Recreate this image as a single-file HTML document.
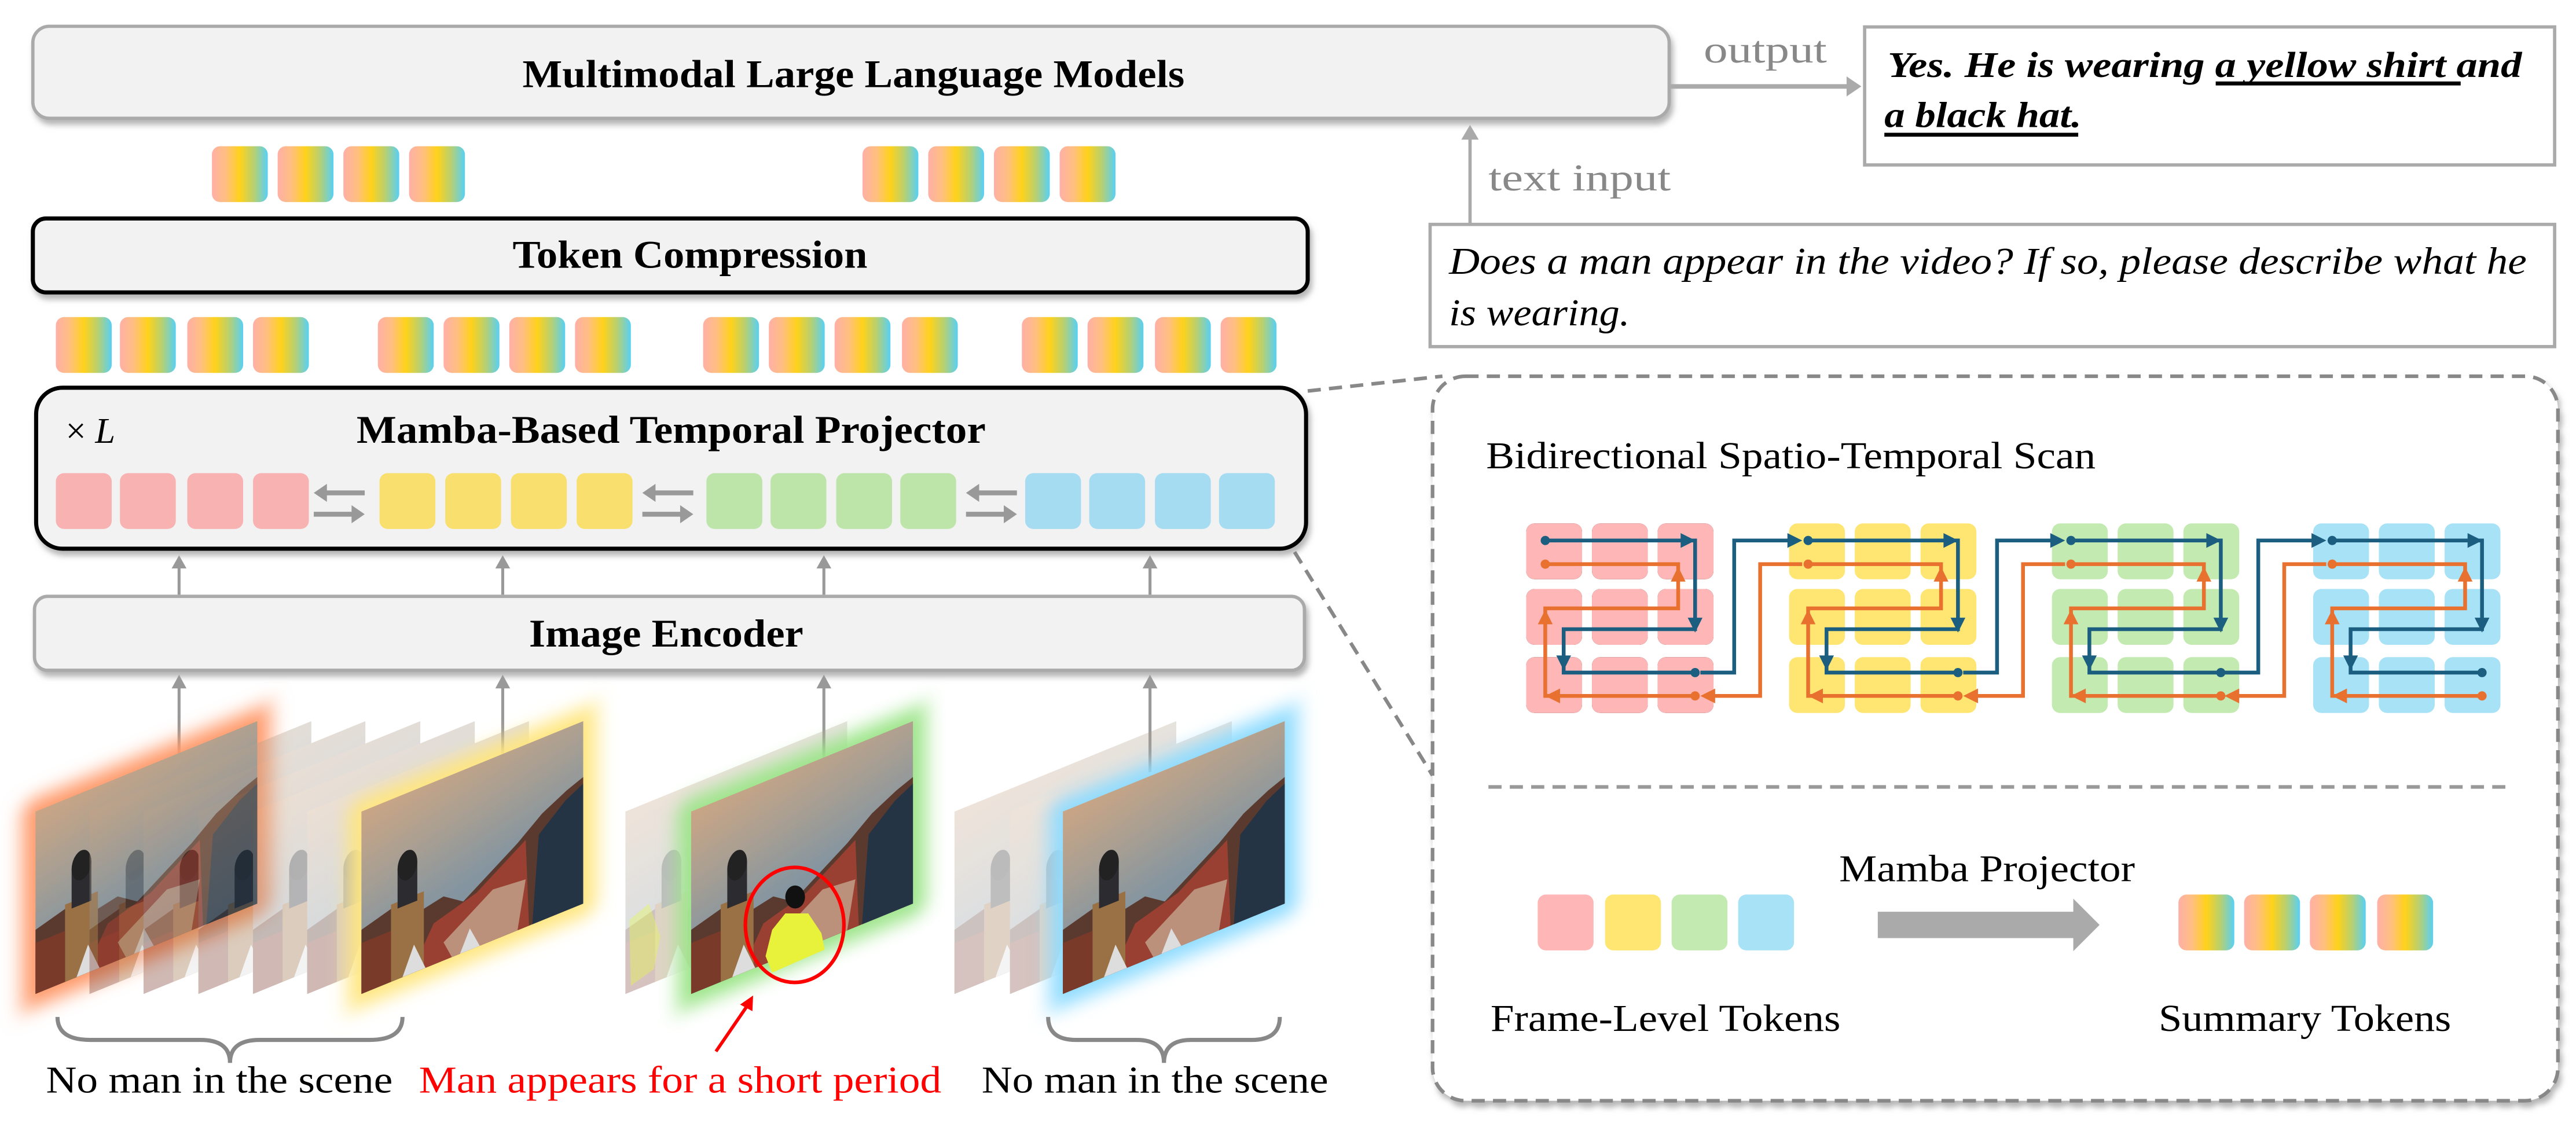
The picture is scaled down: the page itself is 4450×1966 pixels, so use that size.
<!DOCTYPE html>
<html><head><meta charset="utf-8"><style>html,body{margin:0;padding:0;background:#fff}svg{display:block}</style></head>
<body>
<svg xmlns="http://www.w3.org/2000/svg" width="4450" height="1966" viewBox="0 0 1568 692.7" preserveAspectRatio="none" font-family="'Liberation Serif', serif">
<defs>
<linearGradient id="tg" x1="0" y1="0" x2="1" y2="0">
<stop offset="0" stop-color="#ffb0a6"/><stop offset="0.25" stop-color="#ffbf80"/><stop offset="0.5" stop-color="#ffd21a"/><stop offset="0.75" stop-color="#b8d070"/><stop offset="1" stop-color="#58d0f5"/>
</linearGradient>
<linearGradient id="sky" x1="0" y1="0" x2="0.3" y2="1">
<stop offset="0" stop-color="#caa585"/><stop offset="0.35" stop-color="#a99f92"/><stop offset="0.7" stop-color="#8595a0"/><stop offset="1" stop-color="#7a8f9c"/>
</linearGradient>
<filter id="sh" x="-5%" y="-20%" width="110%" height="150%"><feDropShadow dx="1.5" dy="3" stdDeviation="1.8" flood-color="#777" flood-opacity="0.55"/></filter>
<filter id="blur" x="-50%" y="-50%" width="200%" height="200%"><feGaussianBlur stdDeviation="6"/></filter>
<g id="img">
<rect x="0" y="0" width="135" height="111" fill="url(#sky)"/>
<path d="M0,72 L20,66 L32,76 L50,72 L62,80 L80,68 L95,58 L110,46 L125,38 L135,34 L135,111 L0,111 Z" fill="#5a3a2e"/>
<path d="M30,111 L44,86 L70,78 L85,68 L100,58 L102,111Z" fill="#a54232" opacity="0.85"/>
<path d="M104,111 L108,58 L124,44 L135,38 L135,111Z" fill="#243445"/>
<path d="M50,100 L80,80 L100,82 L95,111 L55,111Z" fill="#c9b39a" opacity="0.7"/>
<rect x="18" y="64" width="20" height="47" fill="#9a7045"/>
<rect x="22" y="44" width="12" height="24" fill="#2b2b30"/>
<ellipse cx="28" cy="44" rx="6" ry="9" fill="#222"/>
<path d="M25,111 L32,94 L39,111Z" fill="#ddd"/>
<path d="M60,111 L66,98 L72,111Z" fill="#ddd"/>
<rect x="0" y="80" width="18" height="31" fill="#7a3a2a"/>
</g>
</defs>

<!-- MLLM box -->
<rect x="20" y="16" width="996" height="56" rx="10" fill="#f2f2f2" stroke="#aaa" stroke-width="2" filter="url(#sh)"/>
<text x="318" y="53" font-size="24" font-weight="bold" textLength="403" lengthAdjust="spacingAndGlyphs">Multimodal Large Language Models</text>

<!-- output arrow -->
<line x1="1017" y1="52.6" x2="1125" y2="52.6" stroke="#aaa" stroke-width="2.8"/>
<polygon points="1133,52.6 1124,46.5 1124,58.7" fill="#aaa"/>
<text x="1037" y="38" font-size="23" fill="#888" textLength="75" lengthAdjust="spacingAndGlyphs">output</text>

<rect x="1135" y="16.4" width="420" height="84" fill="#fff" stroke="#aaa" stroke-width="2"/>
<text x="1149" y="46.8" font-size="22" font-weight="bold" font-style="italic" textLength="386" lengthAdjust="spacingAndGlyphs">Yes. He is wearing a yellow shirt and</text>
<line x1="1348.7" y1="50.8" x2="1497.8" y2="50.8" stroke="#000" stroke-width="2.4"/>
<text x="1147" y="77.4" font-size="22" font-weight="bold" font-style="italic" textLength="120" lengthAdjust="spacingAndGlyphs">a black hat.</text>
<line x1="1147" y1="82" x2="1265" y2="82" stroke="#000" stroke-width="2.4"/>

<!-- text input -->
<line x1="894.8" y1="137" x2="894.8" y2="84" stroke="#aaa" stroke-width="2"/>
<polygon points="894.8,76 889.5,85 900.1,85" fill="#aaa"/>
<text x="906" y="116" font-size="23" fill="#888" textLength="111" lengthAdjust="spacingAndGlyphs">text input</text>
<rect x="870.5" y="136.6" width="684.5" height="74.4" fill="#fff" stroke="#aaa" stroke-width="2"/>
<text x="882" y="166.6" font-size="23" font-style="italic" textLength="656" lengthAdjust="spacingAndGlyphs">Does a man appear in the video? If so, please describe what he</text>
<text x="882" y="198" font-size="23" font-style="italic" textLength="110" lengthAdjust="spacingAndGlyphs">is wearing.</text>

<!-- top tokens -->
<g fill="url(#tg)">
<rect x="129" y="89" width="34" height="34" rx="5"/><rect x="169" y="89" width="34" height="34" rx="5"/><rect x="209" y="89" width="34" height="34" rx="5"/><rect x="249" y="89" width="34" height="34" rx="5"/>
<rect x="525" y="89" width="34" height="34" rx="5"/><rect x="565" y="89" width="34" height="34" rx="5"/><rect x="605" y="89" width="34" height="34" rx="5"/><rect x="645" y="89" width="34" height="34" rx="5"/>
</g>

<!-- Token compression -->
<rect x="20" y="133" width="776" height="45" rx="8" fill="#f2f2f2" stroke="#000" stroke-width="2.5" filter="url(#sh)"/>
<text x="312" y="163" font-size="24" font-weight="bold" textLength="216" lengthAdjust="spacingAndGlyphs">Token Compression</text>

<!-- second tokens -->
<g fill="url(#tg)">
<rect x="34" y="193" width="34" height="34" rx="5"/><rect x="73" y="193" width="34" height="34" rx="5"/><rect x="114" y="193" width="34" height="34" rx="5"/><rect x="154" y="193" width="34" height="34" rx="5"/>
<rect x="230" y="193" width="34" height="34" rx="5"/><rect x="270" y="193" width="34" height="34" rx="5"/><rect x="310" y="193" width="34" height="34" rx="5"/><rect x="350" y="193" width="34" height="34" rx="5"/>
<rect x="428" y="193" width="34" height="34" rx="5"/><rect x="468" y="193" width="34" height="34" rx="5"/><rect x="508" y="193" width="34" height="34" rx="5"/><rect x="549" y="193" width="34" height="34" rx="5"/>
<rect x="622" y="193" width="34" height="34" rx="5"/><rect x="662" y="193" width="34" height="34" rx="5"/><rect x="703" y="193" width="34" height="34" rx="5"/><rect x="743" y="193" width="34" height="34" rx="5"/>
</g>

<!-- dashed connectors -->
<line x1="796" y1="238" x2="878" y2="229" stroke="#888" stroke-width="2.2" stroke-dasharray="8 5"/>
<line x1="788" y1="336" x2="872" y2="472" stroke="#888" stroke-width="2.2" stroke-dasharray="8 5"/>

<!-- Mamba box -->
<rect x="22" y="236" width="773" height="98" rx="16" fill="#f2f2f2" stroke="#000" stroke-width="2.5" filter="url(#sh)"/>
<text x="40" y="269.6" font-size="22">× <tspan font-style="italic">L</tspan></text>
<text x="217" y="269.6" font-size="24" font-weight="bold" textLength="383" lengthAdjust="spacingAndGlyphs">Mamba-Based Temporal Projector</text>
<g fill="#f8b2b2"><rect x="34" y="288" width="34" height="34" rx="5"/><rect x="73" y="288" width="34" height="34" rx="5"/><rect x="114" y="288" width="34" height="34" rx="5"/><rect x="154" y="288" width="34" height="34" rx="5"/></g>
<g fill="#f8df6e"><rect x="231" y="288" width="34" height="34" rx="5"/><rect x="271" y="288" width="34" height="34" rx="5"/><rect x="311" y="288" width="34" height="34" rx="5"/><rect x="351" y="288" width="34" height="34" rx="5"/></g>
<g fill="#bde5a9"><rect x="430" y="288" width="34" height="34" rx="5"/><rect x="469" y="288" width="34" height="34" rx="5"/><rect x="509" y="288" width="34" height="34" rx="5"/><rect x="548" y="288" width="34" height="34" rx="5"/></g>
<g fill="#a5dcf2"><rect x="624" y="288" width="34" height="34" rx="5"/><rect x="663" y="288" width="34" height="34" rx="5"/><rect x="703" y="288" width="34" height="34" rx="5"/><rect x="742" y="288" width="34" height="34" rx="5"/></g>
<g stroke="#999" stroke-width="3" fill="#999">
<line x1="198" y1="300" x2="222" y2="300"/><polygon points="191,300 199,294.5 199,305.5" stroke="none"/>
<line x1="191" y1="313" x2="215" y2="313"/><polygon points="222,313 214,307.5 214,318.5" stroke="none"/>
<line x1="398" y1="300" x2="422" y2="300"/><polygon points="391,300 399,294.5 399,305.5" stroke="none"/>
<line x1="391" y1="313" x2="415" y2="313"/><polygon points="422,313 414,307.5 414,318.5" stroke="none"/>
<line x1="595" y1="300" x2="619" y2="300"/><polygon points="588,300 596,294.5 596,305.5" stroke="none"/>
<line x1="588" y1="313" x2="612" y2="313"/><polygon points="619,313 611,307.5 611,318.5" stroke="none"/>
</g>

<!-- arrows encoder->mamba -->
<g stroke="#999" stroke-width="1.8">
<line x1="109" y1="362" x2="109" y2="344"/><line x1="306" y1="362" x2="306" y2="344"/><line x1="501.5" y1="362" x2="501.5" y2="344"/><line x1="700" y1="362" x2="700" y2="344"/>
</g>
<g fill="#999">
<polygon points="109,338 104.5,346 113.5,346"/><polygon points="306,338 301.5,346 310.5,346"/><polygon points="501.5,338 497,346 506,346"/><polygon points="700,338 695.5,346 704.5,346"/>
</g>

<!-- Image encoder -->
<rect x="21" y="363" width="773" height="45" rx="8" fill="#f2f2f2" stroke="#aaa" stroke-width="2" filter="url(#sh)"/>
<text x="322" y="393.6" font-size="24" font-weight="bold" textLength="167" lengthAdjust="spacingAndGlyphs">Image Encoder</text>

<!-- arrows images->encoder -->
<g stroke="#999" stroke-width="1.8">
<line x1="109" y1="470" x2="109" y2="417"/><line x1="306" y1="470" x2="306" y2="417"/><line x1="501.5" y1="470" x2="501.5" y2="417"/><line x1="700" y1="470" x2="700" y2="417"/>
</g>
<g fill="#999">
<polygon points="109,410.7 104.5,419 113.5,419"/><polygon points="306,410.7 301.5,419 310.5,419"/><polygon points="501.5,410.7 497,419 506,419"/><polygon points="700,410.7 695.5,419 704.5,419"/>
</g>

<!-- images -->
<g transform="translate(21.6,494) skewY(-22.17)"><rect x="-8" y="-8" width="151" height="127" fill="#ff9a6a" filter="url(#blur)"/><use href="#img"/></g>
<g opacity="0.35">
<g transform="translate(54.5,494) skewY(-22.17)"><use href="#img"/></g>
<g transform="translate(87.4,494) skewY(-22.17)"><use href="#img"/></g>
<g transform="translate(120.8,494) skewY(-22.17)"><use href="#img"/></g>
<g transform="translate(154,494) skewY(-22.17)"><use href="#img"/></g>
<g transform="translate(187,494) skewY(-22.17)"><use href="#img"/></g>
</g>
<g transform="translate(220,494) skewY(-22.17)"><rect x="-8" y="-8" width="151" height="127" fill="#ffe680" filter="url(#blur)"/><use href="#img"/></g>

<g opacity="0.3" transform="translate(380.7,494) skewY(-22.17)"><use href="#img"/></g>
<path d="M383,560 L395,550 L402,570 L398,590 L384,600Z" fill="#e8ff40" opacity="0.35"/>
<g transform="translate(420.7,494) skewY(-22.17)"><rect x="-8" y="-8" width="151" height="127" fill="#9de58a" filter="url(#blur)"/><use href="#img"/></g>
<path d="M466,582 L470,566 L478,556 L492,556 L500,568 L502,578 L470,592Z" fill="#e8f23a"/>
<ellipse cx="484" cy="546" rx="6" ry="7" fill="#111"/>
<ellipse cx="483.7" cy="563" rx="30" ry="35" fill="none" stroke="#f00" stroke-width="2.2"/>
<line x1="435.8" y1="640" x2="455" y2="612" stroke="#f00" stroke-width="2"/>
<polygon points="458.4,606 450.5,611.5 458,615.5" fill="#f00"/>

<g opacity="0.3">
<g transform="translate(581,494) skewY(-22.17)"><use href="#img"/></g>
<g transform="translate(614.8,494) skewY(-22.17)"><use href="#img"/></g>
</g>
<g transform="translate(647,494) skewY(-22.17)"><rect x="-8" y="-8" width="151" height="127" fill="#8fdcff" filter="url(#blur)"/><use href="#img"/></g>

<!-- braces -->
<g fill="none" stroke="#888" stroke-width="2.5">
<path d="M35,619 Q35,633 55,633 L122,633 Q140,633 140,647 Q140,633 158,633 L225,633 Q245,633 245,619"/>
<path d="M638,619 Q638,633 655,633 L692,633 Q708.5,633 708.5,647 Q708.5,633 725,633 L762,633 Q779,633 779,619"/>
</g>
<text x="28" y="665" font-size="23" textLength="211" lengthAdjust="spacingAndGlyphs">No man in the scene</text>
<text x="255" y="665" font-size="23" fill="#f00" textLength="318" lengthAdjust="spacingAndGlyphs">Man appears for a short period</text>
<text x="597.5" y="665" font-size="23" textLength="211" lengthAdjust="spacingAndGlyphs">No man in the scene</text>

<!-- right dashed panel -->
<rect x="872" y="229" width="685" height="441" rx="20" fill="#fff" stroke="#888" stroke-width="2.2" stroke-dasharray="8 5" filter="url(#sh)"/>
<text x="904.6" y="285" font-size="23" textLength="371" lengthAdjust="spacingAndGlyphs">Bidirectional Spatio-Temporal Scan</text>

<!-- scan grids -->
<g id="grid0">
<g>
<rect x="929" y="318.6" width="34" height="34" rx="5"/><rect x="969" y="318.6" width="34" height="34" rx="5"/><rect x="1009" y="318.6" width="34" height="34" rx="5"/>
<rect x="929" y="358.5" width="34" height="34" rx="5"/><rect x="969" y="358.5" width="34" height="34" rx="5"/><rect x="1009" y="358.5" width="34" height="34" rx="5"/>
<rect x="929" y="400" width="34" height="34" rx="5"/><rect x="969" y="400" width="34" height="34" rx="5"/><rect x="1009" y="400" width="34" height="34" rx="5"/>
</g>
</g>
<g fill="#ffb6b6"><use href="#grid0"/></g>
<g fill="#ffe571" transform="translate(160,0)"><use href="#grid0"/></g>
<g fill="#c3eab1" transform="translate(320,0)"><use href="#grid0"/></g>
<g fill="#a8e2f7" transform="translate(479,0)"><use href="#grid0"/></g>

<g id="scan">
<polyline points="940.6,329 1031.8,329 1031.8,383 951.8,383 951.8,409.4 1031.8,409.4" fill="none" stroke="#1b5e80" stroke-width="2.3"/>
<polyline points="940.6,343.4 1021.5,343.4 1021.5,370.3 940.6,370.3 940.6,423.6 1031.8,423.6" fill="none" stroke="#e8712f" stroke-width="2.3"/>
<g fill="#1b5e80">
<circle cx="940.6" cy="329" r="2.8"/><circle cx="1031.8" cy="409.4" r="2.8"/>
<polygon points="1032,329 1023,324.5 1023,333.5"/>
<polygon points="1031.8,385 1027.3,376 1036.3,376"/>
<polygon points="951.8,408 947.3,399 956.3,399"/>
</g>
<g fill="#e8712f">
<circle cx="940.6" cy="343.4" r="2.8"/><circle cx="1031.8" cy="423.6" r="2.8"/>
<polygon points="1021.5,345 1017,354 1026,354"/>
<polygon points="940.6,371 936.1,380 945.1,380"/>
<polygon points="940.6,423.6 949.6,419.1 949.6,428.1"/>
</g>
</g>
<use href="#scan" transform="translate(160,0)"/>
<use href="#scan" transform="translate(320,0)"/>
<use href="#scan" transform="translate(479,0)"/>

<g id="inter">
<polyline points="1035,409.4 1055.6,409.4 1055.6,329 1094,329" fill="none" stroke="#1b5e80" stroke-width="2.3"/>
<polygon points="1097,329 1088,324.5 1088,333.5" fill="#1b5e80"/>
<polyline points="1097,343.4 1071.4,343.4 1071.4,423.6 1040,423.6" fill="none" stroke="#e8712f" stroke-width="2.3"/>
<polygon points="1035,423.6 1044,419.1 1044,428.1" fill="#e8712f"/>
</g>
<use href="#inter" transform="translate(160,0)"/>
<use href="#inter" transform="translate(319,0)"/>

<line x1="906" y1="479" x2="1528" y2="479" stroke="#999" stroke-width="2.2" stroke-dasharray="8 5"/>

<text x="1119.5" y="536.5" font-size="23" textLength="180" lengthAdjust="spacingAndGlyphs">Mamba Projector</text>
<rect x="936" y="544.5" width="34" height="34" rx="5" fill="#ffb6b6"/>
<rect x="977" y="544.5" width="34" height="34" rx="5" fill="#ffe571"/>
<rect x="1017.5" y="544.5" width="34" height="34" rx="5" fill="#c3eab1"/>
<rect x="1058" y="544.5" width="34" height="34" rx="5" fill="#a8e2f7"/>
<polygon points="1143,555 1262,555 1262,547 1278,563 1262,579 1262,571 1143,571" fill="#aaa"/>
<g fill="url(#tg)">
<rect x="1326" y="544.5" width="34" height="34" rx="5"/><rect x="1366" y="544.5" width="34" height="34" rx="5"/><rect x="1406" y="544.5" width="34" height="34" rx="5"/><rect x="1447" y="544.5" width="34" height="34" rx="5"/>
</g>
<text x="907.3" y="627.6" font-size="23" textLength="213" lengthAdjust="spacingAndGlyphs">Frame-Level Tokens</text>
<text x="1314" y="627.6" font-size="23" textLength="178" lengthAdjust="spacingAndGlyphs">Summary Tokens</text>
</svg>
</body></html>
